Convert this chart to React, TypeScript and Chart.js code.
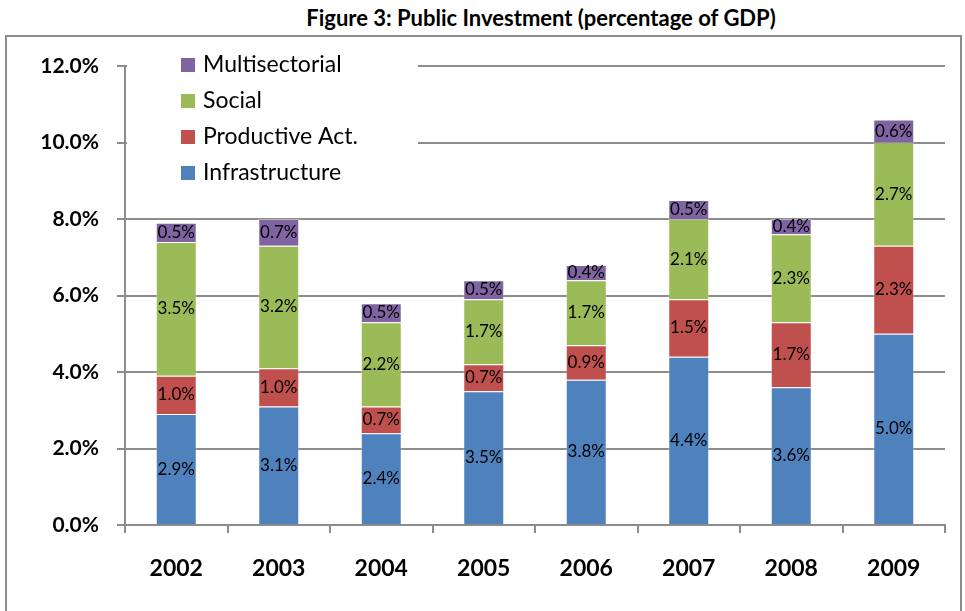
import React, { useEffect, useRef } from "react";
import { Chart, registerables } from "chart.js";

Chart.register(...registerables);

const categories = ["2002", "2003", "2004", "2005", "2006", "2007", "2008", "2009"];
const infrastructure = [2.9, 3.1, 2.4, 3.5, 3.8, 4.4, 3.6, 5.0];
const productive = [1.0, 1.0, 0.7, 0.7, 0.9, 1.5, 1.7, 2.3];
const social = [3.5, 3.2, 2.2, 1.7, 1.7, 2.1, 2.3, 2.7];
const multisectorial = [0.5, 0.7, 0.5, 0.5, 0.4, 0.5, 0.4, 0.6];
const seriesNames = ["Infrastructure", "Productive Act.", "Social", "Multisectorial"];
const chartTitle = "Figure 3: Public Investment (percentage of GDP)";

const FONT = "Lato, 'Liberation Sans', sans-serif";
const colors = ["#4F81BD", "#C0504D", "#9BBB59", "#8064A2"];

const valueLabels = {
  id: "valueLabels",
  afterDatasetsDraw(chart: any) {
    const ctx = chart.ctx;
    ctx.save();
    ctx.font = `17px ${FONT}`;
    ctx.fillStyle = "#000";
    ctx.textAlign = "center";
    ctx.textBaseline = "middle";
    chart.data.datasets.forEach((ds: any, i: number) => {
      const meta = chart.getDatasetMeta(i);
      meta.data.forEach((el: any, j: number) => {
        const p = el.getCenterPoint();
        ctx.fillText(Number(ds.data[j]).toFixed(1) + "%", p.x, p.y);
      });
    });
    ctx.restore();
  },
};

const overlayLegend = {
  id: "overlayLegend",
  afterDatasetsDraw(chart: any) {
    const ctx = chart.ctx;
    const a = chart.chartArea;
    ctx.save();
    ctx.fillStyle = "#fff";
    ctx.fillRect(a.left + 2, a.top - 18, 291, 144);
    ctx.font = `23px ${FONT}`;
    ctx.textBaseline = "middle";
    ctx.textAlign = "left";
    const ds = chart.data.datasets;
    for (let k = 0; k < ds.length; k++) {
      const d = ds[ds.length - 1 - k];
      const cy = a.top - 1 + k * 36;
      ctx.fillStyle = d.backgroundColor;
      ctx.fillRect(a.left + 56, cy - 7, 14, 14);
      ctx.fillStyle = "#000";
      ctx.fillText(d.label, a.left + 78, cy);
    }
    ctx.restore();
  },
};

export default function App() {
  const ref = useRef<HTMLCanvasElement>(null);
  useEffect(() => {
    const data = [infrastructure, productive, social, multisectorial];
    const chart = new Chart(ref.current!, {
      type: "bar",
      data: {
        labels: categories,
        datasets: data.map((d, i) => ({
          label: seriesNames[i],
          data: d,
          backgroundColor: colors[i],
          borderColor: "rgba(255,255,255,0.35)",
          borderWidth: 1,
          barPercentage: 0.4,
          categoryPercentage: 1,
        })),
      },
      options: {
        animation: false,
        responsive: false,
        layout: { padding: { top: 66, right: 20, left: 0, bottom: 0 } },
        plugins: {
          legend: { display: false },
          tooltip: { enabled: false },
          title: { display: false },
        },
        scales: {
          x: {
            stacked: true,
            offset: true,
            grid: {
              display: true,
              offset: true,
              drawOnChartArea: false,
              drawTicks: true,
              tickLength: 8,
              color: "#8c8c8c",
              lineWidth: 2,
            },
            border: { display: true, color: "#8c8c8c", width: 2 },
            ticks: {
              font: { family: FONT, size: 23, weight: "bold" },
              color: "#000",
              padding: 22,
            },
            afterFit: (s: any) => {
              s.height = 86;
            },
          },
          y: {
            stacked: true,
            min: 0,
            max: 12,
            grid: {
              color: "#8c8c8c",
              lineWidth: 2,
              drawTicks: true,
              tickLength: 8,
            },
            border: { display: true, color: "#8c8c8c", width: 2 },
            ticks: {
              stepSize: 2,
              font: { family: FONT, size: 21, weight: "bold" },
              color: "#000",
              padding: 18,
              callback: (v: any) => Number(v).toFixed(1) + "%",
            },
            afterFit: (s: any) => {
              s.width = 125;
            },
          },
        },
      },
      plugins: [valueLabels, overlayLegend],
    });
    return () => chart.destroy();
  }, []);

  return (
    <div style={{ position: "fixed", left: 0, top: 0, width: 965, height: 611, background: "#fff", overflow: "hidden" }}>
      <div
        style={{
          position: "absolute",
          left: 5,
          top: 35,
          width: 953,
          height: 620,
          border: "2px solid #8c8c8c",
        }}
      />
      <div
        style={{
          position: "absolute",
          left: 541,
          top: 4,
          transform: "translateX(-50%)",
          whiteSpace: "nowrap",
          font: `bold 22px ${FONT}`,
          color: "#000",
        }}
      >
        {chartTitle}
      </div>
      <canvas ref={ref} width={965} height={611} style={{ position: "absolute", left: 0, top: 0 }} />
    </div>
  );
}
